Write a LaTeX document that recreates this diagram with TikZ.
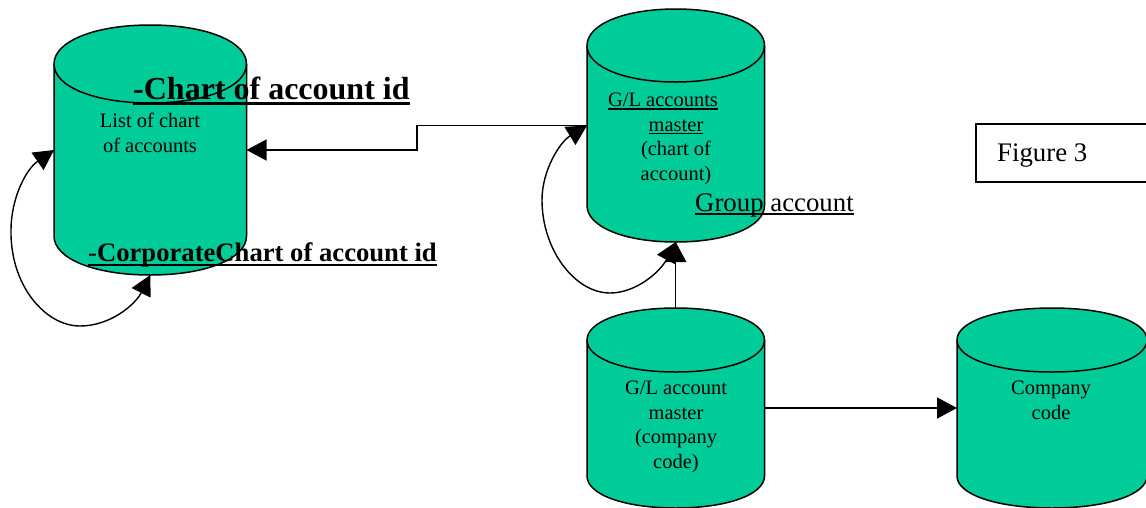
\documentclass[tikz,border=0pt]{standalone}
\usepackage{fontspec}
\setmainfont{Liberation Serif}
\usetikzlibrary{arrows.meta}
\definecolor{cylfill}{HTML}{00CC99}
\newsavebox{\ulxbox}
% thickness, depth of the rule's lower edge, text
\newcommand{\ulx}[3]{\sbox{\ulxbox}{#3}\leavevmode\rlap{\rule[-#2pt]{\wd\ulxbox}{#1pt}}\usebox{\ulxbox}}
\tikzset{
  x=1pt,y=-1pt,
  cylline/.style={line width=1.5pt,draw=black},
  arrowline/.style={line width=1.4pt,draw=black},
  tipstyle/.style={-{Triangle[length=20pt,width=21pt]}},
  bothtips/.style={{Triangle[length=20pt,width=21pt]}-{Triangle[length=20pt,width=21pt]}},
  smalltext/.style={font=\fontsize{20.5pt}{24.5pt}\selectfont,align=center,inner sep=0},
  bigtext/.style={font=\fontsize{26.8pt}{30pt}\selectfont,anchor=base west,inner sep=0},
}
% name, left, top, right, bottom, ry
\newcommand{\cyl}[6]{%
  \node[inner sep=0,outer sep=0,minimum width={(#4-#2)*1pt},minimum height={(#5-#3)*1pt}] (#1) at ({(#2+#4)/2},{(#3+#5)/2}) {};
  \pgfmathsetmacro{\rx}{(#4-#2)/2}
  \pgfmathsetmacro{\mx}{(#2+#4)/2}
  \pgfmathsetmacro{\kx}{\rx*0.58}
  \pgfmathsetmacro{\ky}{#6*0.58}
  \draw[cylline,fill=cylfill,line join=round]
    (#2,#3+#6) .. controls (#2,#3+#6-\ky) and (\mx-\kx,#3) .. (\mx,#3)
    .. controls (\mx+\kx,#3) and (#4,#3+#6-\ky) .. (#4,#3+#6)
    -- (#4,#5-#6) .. controls (#4,#5-#6+\ky) and (\mx+\kx,#5) .. (\mx,#5)
    .. controls (\mx-\kx,#5) and (#2,#5-#6+\ky) .. (#2,#5-#6) -- cycle;
  \draw[cylline]
    (#2,#3+#6) .. controls (#2,#3+#6+\ky) and (\mx-\kx,#3+2*#6) .. (\mx,#3+2*#6)
    .. controls (\mx+\kx,#3+2*#6) and (#4,#3+#6+\ky) .. (#4,#3+#6);
}
\begin{document}
\begin{tikzpicture}
\useasboundingbox (0,0) rectangle (1146,507);
\begin{scope}
\clip (0,0) rectangle (1146,507);
\cyl{list}{54}{25}{246.5}{275}{39}
\cyl{glchart}{587}{9}{764.5}{242}{36.5}
\cyl{glcomp}{587}{308}{764.5}{508}{32}
\cyl{company}{957}{308}{1147}{508}{32}
\node[draw=black,line width=1.2pt,inner sep=0,minimum width=192pt,minimum height=58pt] (figbox) at (1072,153) {};
\end{scope}

% connectors
\draw[arrowline,tipstyle] (glchart.west) -| (417,138) |- (list.east);
\draw[arrowline,tipstyle] (glcomp.north) -- (glchart.south);
\draw[arrowline,tipstyle] (glcomp.east) -- (company.west);
\draw[arrowline,bothtips]
  (list.south) .. controls (135,305) and (110,326) .. (80,326)
  .. controls (45,326) and (10,285) .. (11,230)
  .. controls (11,200) and (25,170) .. (list.west);
\draw[arrowline,bothtips]
  (glchart.south) .. controls (660,272) and (636,293) .. (610,293)
  .. controls (575,293) and (542,250) .. (542,200)
  .. controls (542,170) and (560,142) .. (glchart.west);

% labels
\node[smalltext] (listlabel) at (150,133) {List of chart\\of accounts};
\node[smalltext,anchor=north] (gllabel) at (676,93) {\ulx{1.4}{3}{G/L accounts}\hspace*{26pt}\\\ulx{1.4}{3}{master}\\(chart of\\account)};
\node[smalltext,anchor=north] (complabel) at (676,381) {G/L account\\master\\(company\\code)};
\node[smalltext,anchor=north] (codelabel) at (1051,381) {Company\\code};

\node[anchor=base west,inner sep=0,font=\fontsize{32pt}{34pt}\selectfont\bfseries] (chartid) at (133,99) {\ulx{3.2}{6}{-Chart of account id}};
\node[anchor=base west,inner sep=0,font=\fontsize{26.65pt}{28pt}\selectfont] (corpid) at (88,261) {\ulx{2.2}{5}{-\textbf{CorporateChart of account id}}};
\node[bigtext] (group) at (695,211) {\ulx{1.6}{4}{Group account}};
\node[bigtext] (figlabel) at (997,161) {Figure 3};
\end{tikzpicture}
\end{document}
